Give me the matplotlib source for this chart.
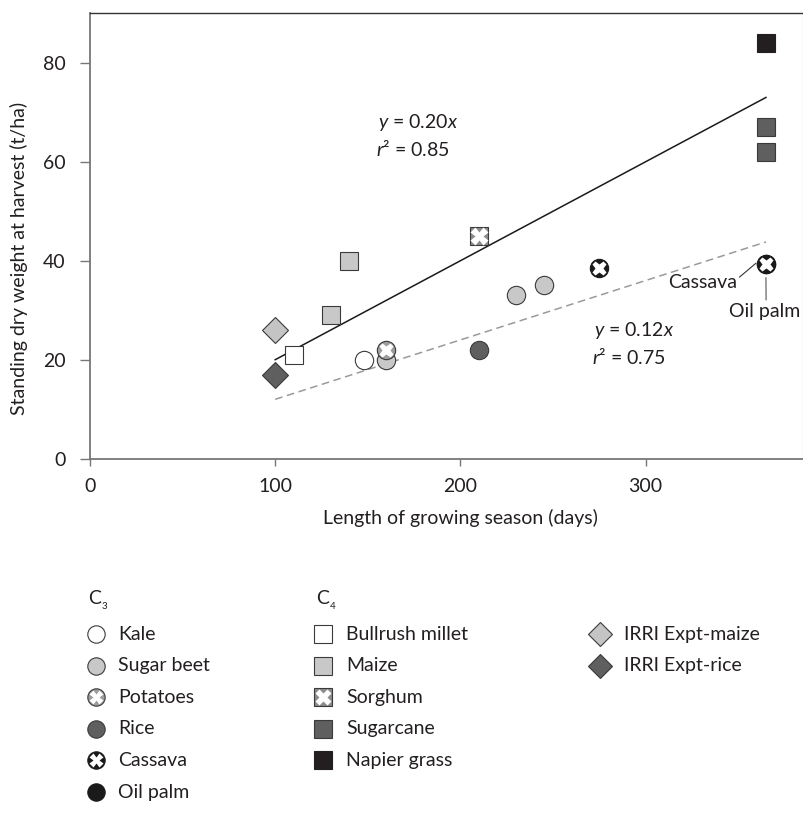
import matplotlib
matplotlib.use("Agg")
import matplotlib.pyplot as plt

plt.rcParams['font.family'] = ['Lato', 'DejaVu Sans']
plt.rcParams['mathtext.fontset'] = 'custom'
plt.rcParams['mathtext.rm'] = 'Lato'
plt.rcParams['mathtext.it'] = 'Lato:italic'

# ---- data: growing season (days) vs standing dry weight (t/ha) ----
kale_x, kale_y = [148], [20]
sugarbeet_x, sugarbeet_y = [160, 230, 245], [20, 33, 35]
potatoes_x, potatoes_y = [160], [22]
rice_x, rice_y = [210], [22]
oilpalm_x, oilpalm_y = [365], [39.3]
cassava_x, cassava_y = [275, 365], [38.5, 39.3]

millet_x, millet_y = [110], [21]
maize_x, maize_y = [130, 140], [29, 40]
sorghum_x, sorghum_y = [210], [45]
sugarcane_x, sugarcane_y = [365, 365], [62, 67]
napier_x, napier_y = [365], [84]
irri_maize_x, irri_maize_y = [100], [26]
irri_rice_x, irri_rice_y = [100], [17]

# regression fits y = slope * x over the fitted range
c4_slope, c4_r2 = 0.20, 0.85
c3_slope, c3_r2 = 0.12, 0.75
fit_range = [100, 365]

x_ticks = [0, 100, 200, 300]
y_ticks = [0, 20, 40, 60, 80]

# ---- marker styles ----
EDGE = '#3a3a3a'
MS = 13.2
styles = {
    'Kale':            dict(marker='o', mfc='white',   mec=EDGE),
    'Sugar beet':      dict(marker='o', mfc='#c8c8c8', mec=EDGE),
    'Potatoes':        dict(marker='o', mfc='#9c9c9c', mec=EDGE, cross=True),
    'Rice':            dict(marker='o', mfc='#5f5f5f', mec=EDGE),
    'Cassava':         dict(marker='o', mfc='#1a1a1a', mec='#1a1a1a', cross=True),
    'Oil palm':        dict(marker='o', mfc='#1a1a1a', mec='#1a1a1a'),
    'Bullrush millet': dict(marker='s', mfc='white',   mec=EDGE),
    'Maize':           dict(marker='s', mfc='#c8c8c8', mec=EDGE),
    'Sorghum':         dict(marker='s', mfc='#8c8c8c', mec=EDGE, cross=True, big=True),
    'Sugarcane':       dict(marker='s', mfc='#5f5f5f', mec=EDGE),
    'Napier grass':    dict(marker='s', mfc='#231f20', mec='#231f20'),
    'IRRI Expt-maize': dict(marker='D', mfc='#c4c4c4', mec=EDGE),
    'IRRI Expt-rice':  dict(marker='D', mfc='#5f5f5f', mec=EDGE),
}


def draw_marker(axis, xs, ys, name, ms=MS, z=3):
    st = styles[name]
    axis.plot(xs, ys, linestyle='none', marker=st['marker'], ms=ms,
              mfc=st['mfc'], mec=st['mec'], mew=0.8, zorder=z)
    if st.get('cross'):
        k = 0.95 if st.get('big') else 0.8
        axis.plot(xs, ys, linestyle='none', marker='X', ms=ms * k,
                  mfc='white', mec='none', zorder=z + 0.1)


fig = plt.figure(figsize=(8.04, 8.13), dpi=100)
W, H = 804, 813
left, right, top, bottom = 90, 803, 13.3, 458.7
ax = fig.add_axes([left / W, 1 - bottom / H, (right - left) / W, (bottom - top) / H])
ax.set_xlim(0, 385)
ax.set_ylim(0, 90)

# regression lines
ax.plot(fit_range, [c4_slope * v for v in fit_range], color='#1a1a1a', lw=1.1, zorder=2)
ax.plot(fit_range, [c3_slope * v for v in fit_range], color='#9a9a9a', lw=1.1,
        ls=(0, (5, 3)), zorder=2)

series = [
    (oilpalm_x, oilpalm_y, 'Oil palm'),
    (kale_x, kale_y, 'Kale'),
    (sugarbeet_x, sugarbeet_y, 'Sugar beet'),
    (potatoes_x, potatoes_y, 'Potatoes'),
    (rice_x, rice_y, 'Rice'),
    (cassava_x, cassava_y, 'Cassava'),
    (millet_x, millet_y, 'Bullrush millet'),
    (maize_x, maize_y, 'Maize'),
    (sorghum_x, sorghum_y, 'Sorghum'),
    (sugarcane_x, sugarcane_y, 'Sugarcane'),
    (napier_x, napier_y, 'Napier grass'),
    (irri_maize_x, irri_maize_y, 'IRRI Expt-maize'),
    (irri_rice_x, irri_rice_y, 'IRRI Expt-rice'),
]
for xs, ys, name in series:
    draw_marker(ax, xs, ys, name)

FS = 14
TXT = '#231f20'
ax.text(177, 67.9, f'$y$ = {c4_slope:.2f}$x$', fontsize=FS, color=TXT, ha='center', va='center')
ax.text(174.3, 62.6, f'$r$\u00b2 = {c4_r2:.2f}', fontsize=FS, color=TXT, ha='center', va='center')
ax.text(293.6, 25.9, f'$y$ = {c3_slope:.2f}$x$', fontsize=FS, color=TXT, ha='center', va='center')
ax.text(290.9, 20.5, f'$r$\u00b2 = {c3_r2:.2f}', fontsize=FS, color=TXT, ha='center', va='center')

ax.annotate('Cassava', xy=(359.6, 39.5), xytext=(349.2, 35.7), fontsize=FS, color=TXT,
            ha='right', va='center',
            arrowprops=dict(arrowstyle='-', lw=0.8, color='#333333',
                            shrinkA=0, shrinkB=0, relpos=(1.0, 0.65)))
ax.annotate('Oil palm', xy=(365, 36.6), xytext=(364.3, 29.8), fontsize=FS, color=TXT,
            ha='center', va='center',
            arrowprops=dict(arrowstyle='-', lw=0.8, color='#555555',
                            shrinkA=0, shrinkB=0, relpos=(0.52, 1.0)))

# axes styling
ax.set_xticks(x_ticks)
ax.set_yticks(y_ticks)
ax.tick_params(axis='y', length=7, width=1, color='#777777', pad=10.5,
               labelsize=FS, labelcolor=TXT)
ax.tick_params(axis='x', length=5, width=1, color='#777777', pad=9,
               labelsize=FS, labelcolor=TXT)
for s in ('left', 'bottom'):
    ax.spines[s].set_color('#777777')
    ax.spines[s].set_linewidth(1.3)
ax.spines['top'].set_color('#333333')
ax.spines['top'].set_linewidth(1.0)
ax.spines['right'].set_color('#e6e6e6')
ax.spines['right'].set_linewidth(1.0)

ax.set_xlabel('Length of growing season (days)', fontsize=FS, color=TXT, va='center')
ax.xaxis.set_label_coords((460 - left) / (right - left), -(518 - bottom) / (bottom - top))
ax.set_ylabel('Standing dry weight at harvest (t/ha)', fontsize=FS, color=TXT, va='center')
ax.yaxis.set_label_coords((19 - left) / (right - left), (bottom - 258) / (bottom - top))

# ---- key below the plot, laid out in pixel units ----
key = fig.add_axes([0, 0, 1, 1], zorder=5)
key.set_xlim(0, W)
key.set_ylim(H, 0)
key.axis('off')
key.patch.set_alpha(0)

rows = [634, 665.6, 697.2, 728.8, 760.4, 792]
header_y = 598
columns = [
    (88, 96, 118, ['Kale', 'Sugar beet', 'Potatoes', 'Rice', 'Cassava', 'Oil palm'], '3'),
    (316, 323, 346, ['Bullrush millet', 'Maize', 'Sorghum', 'Sugarcane', 'Napier grass'], '4'),
    (None, 600, 624, ['IRRI Expt-maize', 'IRRI Expt-rice'], None),
]
KMS = 12.5
for hx, mx, tx, names, sub in columns:
    if sub is not None:
        key.text(hx, header_y, 'C', fontsize=FS, color=TXT, ha='left', va='center')
        key.text(hx + 14, header_y + 8, sub, fontsize=7, color=TXT, ha='left', va='center')
    for ry, name in zip(rows, names):
        draw_marker(key, [mx], [ry], name, ms=KMS)
        key.text(tx, ry, name, fontsize=FS, color=TXT, ha='left', va='center')

fig.savefig('out.png', dpi=100)
